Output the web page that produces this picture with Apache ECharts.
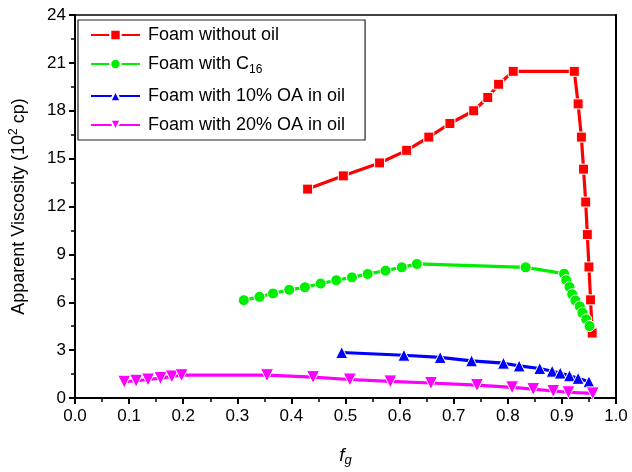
<!DOCTYPE html>
<html>
<head>
<meta charset="utf-8">
<script src="https://cdn.jsdelivr.net/npm/echarts@6/dist/echarts.min.js"></script>
<style>
  html, body { margin: 0; padding: 0; background: #fff; }
  #chart { width: 632px; height: 472px; }
</style>
</head>
<body>
<div id="chart"></div>
<script>
// Gas fraction f_g and apparent viscosity (10^2 cp) for each foam system
const noOilFg   = [0.430, 0.496, 0.563, 0.613, 0.654, 0.693, 0.737, 0.763, 0.783, 0.810, 0.923, 0.930, 0.936, 0.940, 0.944, 0.947, 0.950, 0.953, 0.956];
const noOilVis  = [13.09, 13.92, 14.73, 15.52, 16.35, 17.20, 18.00, 18.83, 19.66, 20.47, 20.47, 18.43, 16.35, 14.34, 12.28, 10.24, 8.21, 6.15, 4.07];

const c16Fg     = [0.312, 0.341, 0.366, 0.396, 0.425, 0.454, 0.483, 0.512, 0.541, 0.574, 0.604, 0.632, 0.833, 0.904, 0.908, 0.914, 0.919, 0.925, 0.933, 0.938, 0.945, 0.951];
const c16Vis    = [6.13, 6.34, 6.55, 6.78, 6.94, 7.17, 7.38, 7.56, 7.77, 7.98, 8.19, 8.40, 8.19, 7.79, 7.38, 6.96, 6.50, 6.11, 5.74, 5.34, 4.93, 4.51];

const oa10Fg    = [0.493, 0.608, 0.675, 0.733, 0.792, 0.821, 0.859, 0.882, 0.897, 0.914, 0.930, 0.950];
const oa10Vis   = [2.85, 2.68, 2.54, 2.33, 2.18, 2.01, 1.85, 1.68, 1.56, 1.39, 1.23, 1.02];

const oa20Fg    = [0.091, 0.113, 0.135, 0.158, 0.179, 0.197, 0.355, 0.440, 0.508, 0.583, 0.658, 0.743, 0.808, 0.847, 0.884, 0.912, 0.957];
const oa20Vis   = [1.02, 1.08, 1.16, 1.25, 1.35, 1.43, 1.43, 1.31, 1.16, 1.04, 0.94, 0.81, 0.67, 0.56, 0.44, 0.36, 0.29];

const seriesNames = ['Foam without oil', 'Foam with C16', 'Foam with 10% OA in oil', 'Foam with 20% OA in oil'];
const xTicks = { min: 0, max: 1, interval: 0.1 };
const yTicks = { min: 0, max: 24, interval: 3 };

const FONT = 'Liberation Sans, Arial, Helvetica, sans-serif';

function zip(xs, ys) { return xs.map((x, i) => [x, ys[i]]); }

function makeSeries(name, xs, ys, color, symbol, size) {
  return {
    name: name,
    type: 'line',
    data: zip(xs, ys),
    symbol: symbol,
    symbolSize: size,
    showSymbol: true,
    lineStyle: { color: color, width: 3.2 },
    itemStyle: { color: color, borderColor: '#fff', borderWidth: 1 },
    emphasis: { disabled: true },
    z: 3
  };
}

const chart = echarts.init(document.getElementById('chart'), null, { renderer: 'canvas' });

const axisLine = { show: true, onZero: false, lineStyle: { color: '#000', width: 2 } };

chart.setOption({
  animation: false,
  backgroundColor: '#fff',
  textStyle: { fontFamily: FONT },
  grid: { left: 72, right: 16, top: 15, bottom: 73, containLabel: false },
  legend: {
    left: 78, top: 20,
    orient: 'vertical',
    itemWidth: 49, itemHeight: 13,
    itemGap: 11,
    padding: [6, 20, 6, 12],
    borderColor: '#222', borderWidth: 1.2,
    backgroundColor: '#fff',
    data: seriesNames,
    formatter: function (n) {
      return n === 'Foam with C16' ? 'Foam with C{sub|16}' : n;
    },
    textStyle: {
      fontFamily: FONT, fontSize: 18, color: '#000', padding: [0, 0, 0, 3],
      rich: { sub: { fontFamily: FONT, fontSize: 12, verticalAlign: 'bottom', padding: [12, 0, 0, 0], color: '#000' } }
    }
  },
  xAxis: [{
    type: 'value', min: xTicks.min, max: xTicks.max, interval: xTicks.interval,
    position: 'bottom',
    axisLine: axisLine,
    axisTick: { show: true, inside: false, length: 6, lineStyle: { color: '#000', width: 2 } },
    minorTick: { show: true, splitNumber: 2, length: 4, lineStyle: { color: '#000', width: 1.5 } },
    splitLine: { show: false },
    axisLabel: { color: '#000', fontSize: 17, fontFamily: FONT, margin: 10,
      formatter: v => v.toFixed(1) },
    name: '{i|f}{s|g}', nameLocation: 'middle', nameGap: 46,
    nameTextStyle: { rich: {
      i: { fontFamily: FONT, fontStyle: 'italic', fontSize: 19, color: '#000' },
      s: { fontFamily: FONT, fontStyle: 'italic', fontSize: 13, color: '#000', verticalAlign: 'bottom', padding: [10, 0, 0, 0] }
    } }
  }, {
    type: 'value', min: xTicks.min, max: xTicks.max, interval: xTicks.interval,
    position: 'top',
    axisLine: { show: true, onZero: false, lineStyle: { color: '#000', width: 1.5 } },
    axisTick: { show: false }, axisLabel: { show: false }, splitLine: { show: false }
  }],
  yAxis: [{
    type: 'value', min: yTicks.min, max: yTicks.max, interval: yTicks.interval,
    position: 'left',
    axisLine: axisLine,
    axisTick: { show: true, inside: false, length: 6, lineStyle: { color: '#000', width: 2 } },
    minorTick: { show: true, splitNumber: 2, length: 4, lineStyle: { color: '#000', width: 1.5 } },
    splitLine: { show: false },
    axisLabel: { color: '#000', fontSize: 17, fontFamily: FONT, margin: 9 },
    name: 'Apparent Viscosity (10{sup|2} cp)', nameLocation: 'middle', nameGap: 45,
    nameTextStyle: { fontFamily: FONT, fontSize: 18, color: '#000',
      rich: { sup: { fontFamily: FONT, fontSize: 12, color: '#000', verticalAlign: 'top', padding: [0, 0, 10, 0] } } }
  }, {
    type: 'value', min: yTicks.min, max: yTicks.max, interval: yTicks.interval,
    position: 'right',
    axisLine: axisLine,
    axisTick: { show: false }, axisLabel: { show: false }, splitLine: { show: false }
  }],
  series: [
    makeSeries(seriesNames[0], noOilFg, noOilVis, '#ff0000', 'rect', 10),
    makeSeries(seriesNames[1], c16Fg, c16Vis, '#00ee00', 'circle', 11),
    makeSeries(seriesNames[2], oa10Fg, oa10Vis, '#0000ff', 'triangle', 12),
    makeSeries(seriesNames[3], oa20Fg, oa20Vis, '#ff00ff', 'path://M0,0 L10,0 L5,9 Z', 13)
  ]
});
</script>
</body>
</html>
